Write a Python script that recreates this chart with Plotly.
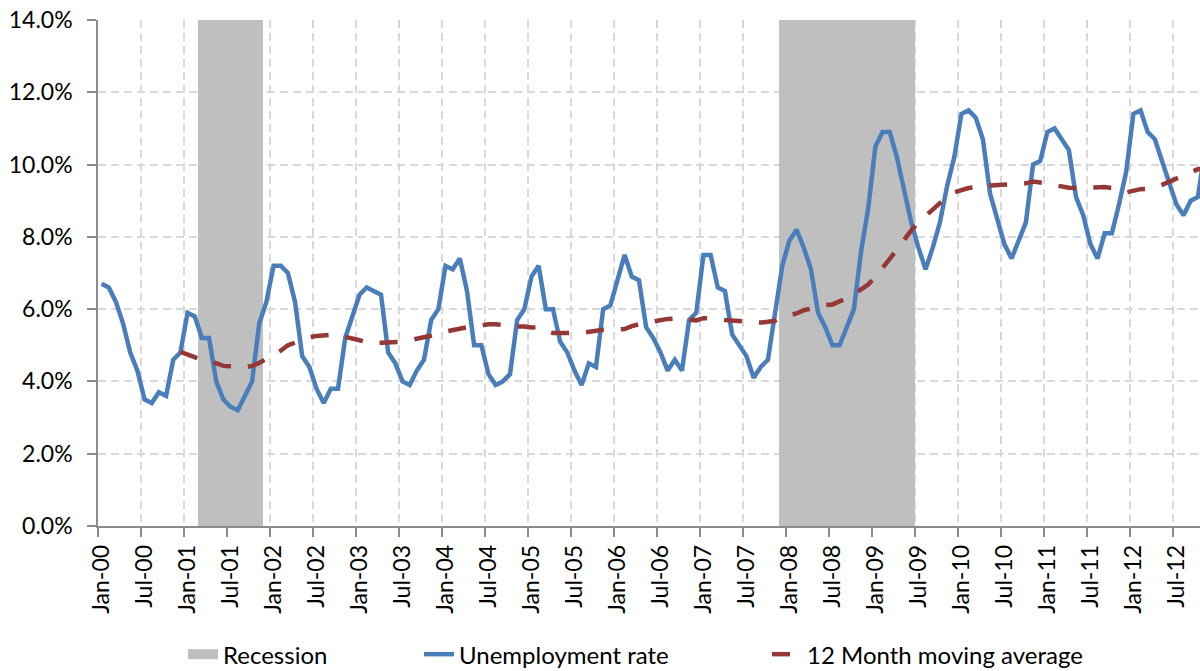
import plotly.graph_objects as go

# ---------------- data ----------------
month_names = ["Jan", "Feb", "Mar", "Apr", "May", "Jun",
               "Jul", "Aug", "Sep", "Oct", "Nov", "Dec"]
year_suffixes = ["00", "01", "02", "03", "04", "05", "06",
                 "07", "08", "09", "10", "11", "12"]
months = [f"{m}-{y}" for y in year_suffixes for m in month_names][:155]

# Unemployment rate (%), Jan-00 .. Nov-12
unemployment_rate = [
    6.7, 6.6, 6.2, 5.6, 4.8, 4.3, 3.5, 3.4, 3.7, 3.6, 4.6, 4.8,      # 2000
    5.9, 5.8, 5.2, 5.2, 4.0, 3.5, 3.3, 3.2, 3.6, 4.0, 5.6, 6.2,      # 2001
    7.2, 7.2, 7.0, 6.2, 4.7, 4.4, 3.8, 3.4, 3.8, 3.8, 5.2, 5.8,      # 2002
    6.4, 6.6, 6.5, 6.4, 4.8, 4.5, 4.0, 3.9, 4.3, 4.6, 5.7, 6.0,      # 2003
    7.2, 7.1, 7.4, 6.5, 5.0, 5.0, 4.2, 3.9, 4.0, 4.2, 5.7, 6.0,      # 2004
    6.9, 7.2, 6.0, 6.0, 5.1, 4.8, 4.3, 3.9, 4.5, 4.4, 6.0, 6.1,      # 2005
    6.8, 7.5, 6.9, 6.8, 5.5, 5.2, 4.8, 4.3, 4.6, 4.3, 5.7, 5.9,      # 2006
    7.5, 7.5, 6.6, 6.5, 5.3, 5.0, 4.7, 4.1, 4.4, 4.6, 6.0, 7.2,      # 2007
    7.9, 8.2, 7.7, 7.1, 5.9, 5.5, 5.0, 5.0, 5.5, 6.0, 7.6, 8.8,      # 2008
    10.5, 10.9, 10.9, 10.2, 9.3, 8.4, 7.7, 7.1, 7.7, 8.4, 9.4, 10.2,  # 2009
    11.4, 11.5, 11.3, 10.7, 9.2, 8.5, 7.8, 7.4, 7.9, 8.4, 10.0, 10.1, # 2010
    10.9, 11.0, 10.7, 10.4, 9.1, 8.6, 7.8, 7.4, 8.1, 8.1, 8.9, 9.8,   # 2011
    11.4, 11.5, 10.9, 10.7, 10.1, 9.5, 8.9, 8.6, 9.0, 9.1, 10.4,      # 2012
]

# 12 month moving average (%), Dec-00 .. Nov-12
moving_average_months = months[11:155]
moving_average = [
    4.82,
    4.75, 4.68, 4.60, 4.57, 4.50, 4.43, 4.42, 4.40, 4.39, 4.43, 4.51, 4.63,
    4.73, 4.85, 5.00, 5.08, 5.14, 5.22, 5.26, 5.28, 5.29, 5.28, 5.24, 5.21,
    5.14, 5.09, 5.05, 5.07, 5.08, 5.08, 5.10, 5.14, 5.18, 5.25, 5.29, 5.31,
    5.38, 5.42, 5.49, 5.50, 5.52, 5.56, 5.58, 5.58, 5.55, 5.52, 5.52, 5.52,
    5.49, 5.50, 5.38, 5.34, 5.35, 5.33, 5.34, 5.34, 5.38, 5.40, 5.43, 5.43,
    5.43, 5.45, 5.53, 5.59, 5.63, 5.66, 5.70, 5.73, 5.74, 5.73, 5.71, 5.69,
    5.75, 5.75, 5.73, 5.70, 5.68, 5.67, 5.66, 5.64, 5.63, 5.65, 5.68, 5.78,
    5.82, 5.88, 5.97, 6.02, 6.07, 6.11, 6.13, 6.21, 6.30, 6.42, 6.55, 6.68,
    6.90, 7.13, 7.39, 7.65, 7.93, 8.18, 8.40, 8.58, 8.76, 8.96, 9.11, 9.23,
    9.30, 9.35, 9.38, 9.43, 9.42, 9.43, 9.43, 9.46, 9.48, 9.48, 9.53, 9.52,
    9.48, 9.43, 9.38, 9.36, 9.35, 9.36, 9.36, 9.36, 9.38, 9.35, 9.26, 9.23,
    9.28, 9.32, 9.33, 9.36, 9.44, 9.52, 9.61, 9.71, 9.78, 9.87, 9.91,
]

# Recession months (shaded)
recession_months = [
    "Mar-01", "Apr-01", "May-01", "Jun-01", "Jul-01", "Aug-01", "Sep-01", "Oct-01", "Nov-01",
    "Dec-07", "Jan-08", "Feb-08", "Mar-08", "Apr-08", "May-08", "Jun-08", "Jul-08", "Aug-08",
    "Sep-08", "Oct-08", "Nov-08", "Dec-08", "Jan-09", "Feb-09", "Mar-09", "Apr-09", "May-09",
    "Jun-09",
]
recession_level = [14.0] * len(recession_months)

y_ticks = [0, 2, 4, 6, 8, 10, 12, 14]
y_tick_labels = ["0.0%", "2.0%", "4.0%", "6.0%", "8.0%", "10.0%", "12.0%", "14.0%"]

# ---------------- figure ----------------
FONT = "Lato, 'Open Sans', sans-serif"
GRID = "#D9D9D9"
AXIS = "#8C8C8C"
REC_COLOR = "#BFBFBF"

fig = go.Figure()

fig.add_trace(go.Bar(
    x=recession_months, y=recession_level, name="Recession",
    marker=dict(color=REC_COLOR, line=dict(width=0)),
    width=1.0, hoverinfo="skip", showlegend=False, legendgroup="rec",
))
# legend entry for the recession shading (wide grey swatch)
fig.add_trace(go.Scatter(
    x=[None], y=[None], name="Recession", mode="lines",
    line=dict(color=REC_COLOR, width=15), legendgroup="rec",
    legendwidth=191,
))
fig.add_trace(go.Scatter(
    x=months, y=unemployment_rate, name="Unemployment rate",
    mode="lines", line=dict(color="#4A7EBB", width=4.5),
    legendwidth=303,
))
fig.add_trace(go.Scatter(
    x=moving_average_months, y=moving_average, name="12 Month moving average",
    mode="lines", line=dict(color="#953735", width=4.5, dash="18px,17px"),
))

fig.update_layout(
    width=1200, height=671,
    margin=dict(l=98, r=0, t=20, b=145),
    paper_bgcolor="white", plot_bgcolor="white",
    font=dict(family=FONT, size=22, color="#000000"),
    bargap=0,
    showlegend=True,
    legend=dict(
        orientation="h", xref="container", yref="container",
        x=0.1525, xanchor="left", y=0.0245, yanchor="middle",
        font=dict(family=FONT, size=24, color="#000000"),
        bgcolor="rgba(0,0,0,0)", borderwidth=0,
    ),
)

fig.update_xaxes(
    type="category", categoryorder="array", categoryarray=months,
    range=[-0.5, 153.3],
    tickmode="linear", tick0=0, dtick=6, tickson="boundaries",
    tickangle=-90, tickfont=dict(family=FONT, size=23, color="#000000"),
    ticks="outside", ticklen=9, tickwidth=1.5, tickcolor=AXIS,
    showline=True, linecolor=AXIS, linewidth=1.5,
    showgrid=True, gridcolor=GRID, gridwidth=1.5, griddash="8px,5px",
    ticklabelstandoff=8, automargin=False,
)
fig.update_yaxes(
    range=[0, 14], tickmode="array", tickvals=y_ticks, ticktext=y_tick_labels,
    tickfont=dict(family=FONT, size=23, color="#000000"),
    ticks="outside", ticklen=9, tickwidth=1.5, tickcolor=AXIS,
    showline=True, linecolor=AXIS, linewidth=1.5,
    showgrid=True, gridcolor=GRID, gridwidth=1.5, griddash="8px,5px",
    zeroline=False, ticklabelstandoff=10, automargin=False,
)

fig.write_html(
    "out.html",
    config={"displayModeBar": False},
    post_script="document.body.style.margin='0';document.body.style.overflow='hidden';",
)
